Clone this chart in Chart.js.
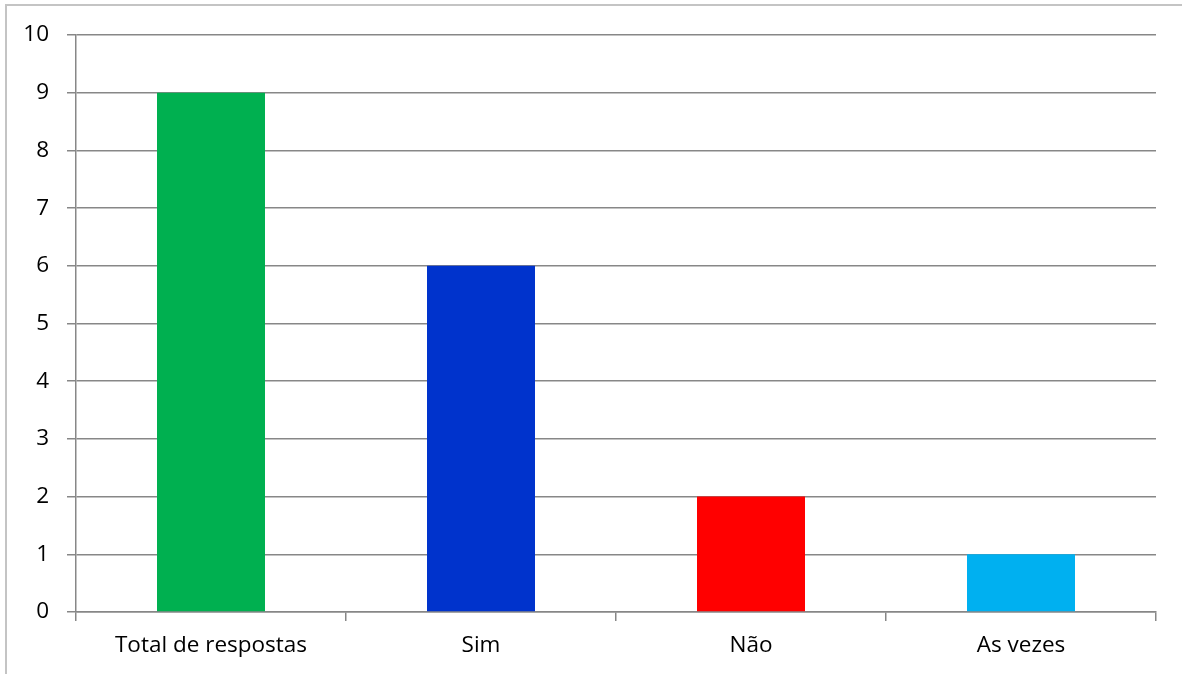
<!DOCTYPE html>
<html lang="pt">
<head>
    <meta charset="UTF-8">
    <title>Respostas</title>
    <script src="https://cdn.jsdelivr.net/npm/chart.js"></script>
    <style>
        html, body { margin: 0; padding: 0; background: #fff; overflow: hidden; }
        #frame { position: absolute; left: 5px; top: 4px; width: 1400px; height: 900px; border: 2px solid #c4c4c4; }
        #wrap { position: absolute; left: 0; top: 0; width: 1182px; height: 674px; }
    </style>
</head>
<body>
    <div id="frame"></div>
    <div id="wrap"><canvas id="chart"></canvas></div>

    <script>
      // data
      const categories = ['Total de respostas', 'Sim', 'Não', 'As vezes'];
      const values = [9, 6, 2, 1];
      const barColors = ['#00B050', '#0033CC', '#FF0000', '#00B0F0'];
      const yTicks = [0, 1, 2, 3, 4, 5, 6, 7, 8, 9, 10];

      const gridColor = '#878787';
      const font = { family: '"Open Sans", "Noto Sans", sans-serif', size: 22.5 };

      new Chart(document.getElementById('chart'), {
        type: 'bar',
        data: {
          labels: categories,
          datasets: [{
            data: values,
            backgroundColor: barColors,
            borderWidth: 0,
            categoryPercentage: 1,
            barPercentage: 0.4
          }]
        },
        options: {
          responsive: true,
          maintainAspectRatio: false,
          animation: false,
          layout: { padding: { top: 35, right: 26, left: 0, bottom: 0 } },
          plugins: { legend: { display: false }, tooltip: { enabled: false } },
          scales: {
            y: {
              min: yTicks[0],
              max: yTicks[yTicks.length - 1],
              afterBuildTicks: s => { s.ticks = yTicks.map(v => ({ value: v })); },
              afterFit: s => { s.width = 76; },
              ticks: { color: '#000', font: font, padding: 18 },
              grid: { color: gridColor, lineWidth: 1.5, tickLength: 9 },
              border: { color: gridColor, width: 1.5 }
            },
            x: {
              afterFit: s => { s.height = 62; },
              ticks: { color: '#000', font: font, padding: 11 },
              grid: { color: gridColor, lineWidth: 1.5, tickLength: 9, drawOnChartArea: false, offset: true },
              border: { color: gridColor, width: 1.5 }
            }
          }
        }
      });
    </script>
</body>
</html>
